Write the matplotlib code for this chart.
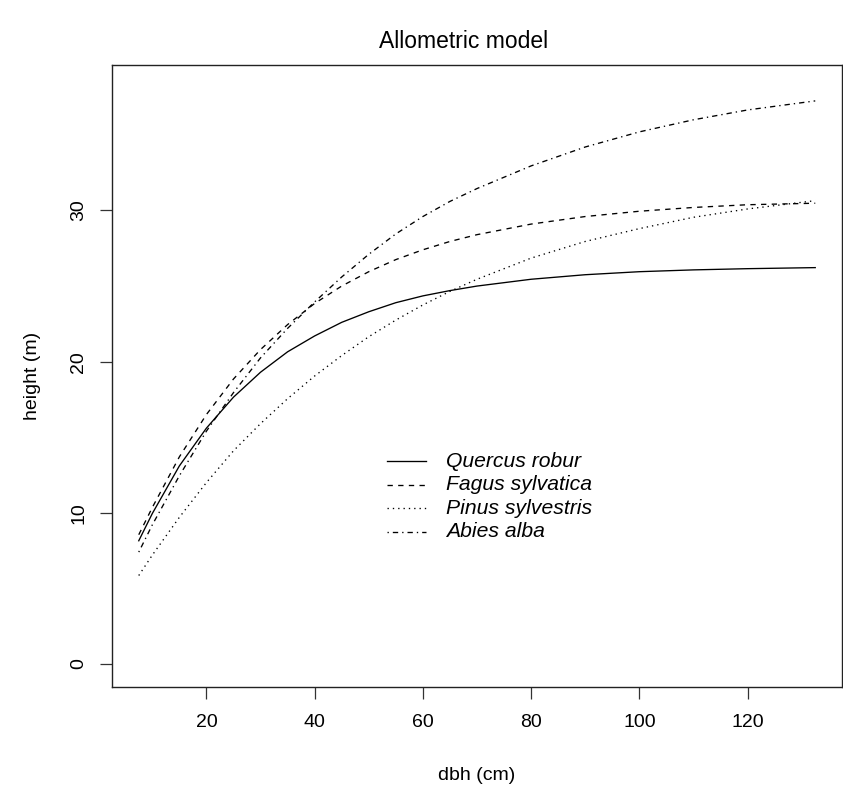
import matplotlib
matplotlib.use("Agg")
import matplotlib.pyplot as plt

plt.rcParams['font.family'] = ['Liberation Sans', 'DejaVu Sans']
plt.rcParams['lines.scale_dashes'] = False

# ---- data ----
dbh = [7.5, 10, 15, 20, 25, 30, 35, 40, 45, 50, 55, 60, 65, 70, 80, 90, 100, 110, 120, 132.5]
quercus = [8.15, 9.95, 13.1, 15.6, 17.65, 19.3, 20.65, 21.7, 22.6, 23.3, 23.9, 24.35, 24.7, 25.0,
           25.45, 25.75, 25.95, 26.07, 26.15, 26.22]
fagus = [8.55, 10.35, 13.7, 16.5, 18.85, 20.8, 22.45, 23.85, 25.0, 25.95, 26.75, 27.4, 27.95, 28.4,
         29.1, 29.6, 29.95, 30.2, 30.38, 30.48]
pinus = [5.85, 7.2, 9.7, 12.0, 14.1, 15.9, 17.55, 19.05, 20.4, 21.65, 22.75, 23.75, 24.65, 25.45,
         26.85, 27.95, 28.8, 29.55, 30.1, 30.65]
abies = [7.4, 9.2, 12.45, 15.4, 17.95, 20.25, 22.2, 23.95, 25.6, 27.1, 28.45, 29.6, 30.6, 31.45,
         32.95, 34.2, 35.2, 36.0, 36.65, 37.25]
species = ["Quercus robur", "Fagus sylvatica", "Pinus sylvestris", "Abies alba"]
xticks = [20, 40, 60, 80, 100, 120]
yticks = [0, 10, 20, 30]

u = 0.96  # one R dash unit in points
styles = [
    dict(linestyle='-'),
    dict(linestyle=(0, (4 * u, 4 * u))),
    dict(linestyle=(0, (1 * u, 3 * u))),
    dict(linestyle=(0, (1 * u, 3 * u, 4 * u, 3 * u))),
]

fig = plt.figure(figsize=(8.43, 7.86), dpi=100)
W, H = 843, 786
left, right, top, bottom = 111.7, 842.3, 65, 687
ax = fig.add_axes([left / W, 1 - bottom / H, (right - left) / W, (bottom - top) / H])

series = [quercus, fagus, pinus, abies]
for ys, st in zip(series, styles):
    ax.plot(dbh, ys, color='black', linewidth=0.96, **st)

xr = max(dbh) - min(dbh)
ax.set_xlim(min(dbh) - 0.04 * xr, max(dbh) + 0.04 * xr)
ymax = 38.1
ax.set_ylim(-0.04 * ymax, ymax * 1.04)

ax.set_xticks(xticks)
ax.set_yticks(yticks)
ax.tick_params(axis='both', direction='out', length=8.5, width=0.9, labelsize=14, color='#333333')
ax.tick_params(axis='x', pad=11)
ax.tick_params(axis='y', pad=9)
for lab in ax.get_yticklabels():
    lab.set_rotation(90)
    lab.set_va('center')
for s in ax.spines.values():
    s.set_linewidth(1.0)
    s.set_color('#222222')

ax.set_xlabel("dbh (cm)", fontsize=14, labelpad=26)
ax.set_ylabel("height (m)", fontsize=14, labelpad=21)
fig.text(464 / W, 1 - 41 / H, "Allometric model", ha='center', va='center', fontsize=16.5)

# legend (no box), drawn like R's legend()
lx0, lx1, tx = 0.3764, 0.4302, 0.4576
rows = [0.3633, 0.3252, 0.2873, 0.2492]
for name, st, ry in zip(species, styles, rows):
    ax.plot([lx0, lx1], [ry, ry], transform=ax.transAxes, color='black', linewidth=0.96, **st)
    ax.text(tx, ry, name, transform=ax.transAxes, fontsize=15.2, style='italic', va='center', ha='left')

fig.savefig("out.png", dpi=100)
